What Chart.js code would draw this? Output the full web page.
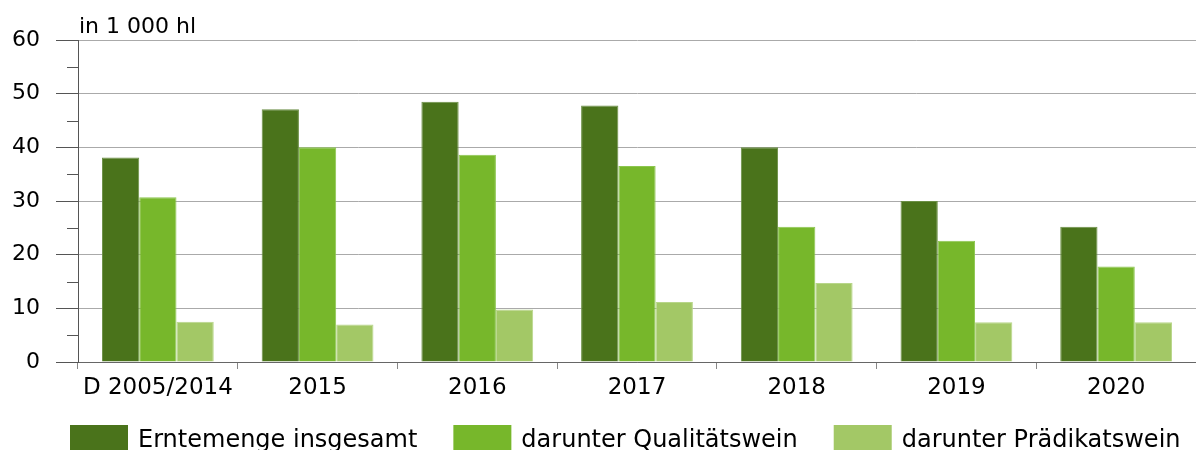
<!DOCTYPE html>
<html>
<head>
<meta charset="utf-8">
<script src="https://cdn.jsdelivr.net/npm/chart.js@4/dist/chart.umd.min.js"></script>
<style>
  html, body { margin: 0; padding: 0; background: #fff; }
  #wrap { width: 1196px; height: 450px; }
</style>
</head>
<body>
<div id="wrap"><canvas id="chart" width="1196" height="450"></canvas></div>
<script>
var categories = ["D 2005/2014", "2015", "2016", "2017", "2018", "2019", "2020"];
var ernteGesamt = [38.1, 47.1, 48.5, 47.8, 40.0, 30.0, 25.2];
var qualitaetswein = [30.7, 40.0, 38.6, 36.5, 25.2, 22.6, 17.8];
var praedikatswein = [7.5, 7.0, 9.8, 11.2, 14.7, 7.4, 7.4];
var seriesLabels = ["Erntemenge insgesamt", "darunter Qualitätswein", "darunter Prädikatswein"];
var yTicks = [0, 10, 20, 30, 40, 50, 60];
var unitLabel = "in 1 000 hl";

var FONT = "'DejaVu Sans', sans-serif";

// Zwischenstriche (5, 15, ...) links an der y-Achse, Einheit und Legende
var extras = {
  id: "extras",
  afterDraw: function (chart) {
    var ctx = chart.ctx;
    var y = chart.scales.y;
    var area = chart.chartArea;
    ctx.save();
    ctx.strokeStyle = "#555";
    ctx.lineWidth = 1;
    for (var i = 0; i < yTicks.length - 1; i++) {
      var py = Math.round(y.getPixelForValue((yTicks[i] + yTicks[i + 1]) / 2)) + 0.5;
      ctx.beginPath();
      ctx.moveTo(area.left - 11, py);
      ctx.lineTo(area.left, py);
      ctx.stroke();
    }

    ctx.fillStyle = "#000";
    ctx.font = "22px " + FONT;
    ctx.textBaseline = "alphabetic";
    ctx.textAlign = "left";
    ctx.fillText(unitLabel, area.left + 1, 33);

    // Legende
    ctx.font = "24px " + FONT;
    ctx.textBaseline = "middle";
    var x = 70;
    chart.data.datasets.forEach(function (ds) {
      ctx.fillStyle = ds.backgroundColor;
      ctx.fillRect(x, 425, 58, 30);
      ctx.fillStyle = "#000";
      ctx.fillText(ds.label, x + 68, 441);
      x += 68 + ctx.measureText(ds.label).width + 36;
    });
    ctx.restore();
  },
};

new Chart(document.getElementById("chart"), {
  type: "bar",
  data: {
    labels: categories,
    datasets: [
      {
        label: seriesLabels[0],
        data: ernteGesamt,
        backgroundColor: "#4a731b",
        borderColor: "#6b8f45",
        borderWidth: 1,
      },
      {
        label: seriesLabels[1],
        data: qualitaetswein,
        backgroundColor: "#77b72b",
        borderColor: "#8cc64f",
        borderWidth: 1,
      },
      {
        label: seriesLabels[2],
        data: praedikatswein,
        backgroundColor: "#a3c866",
        borderColor: "#b8d68a",
        borderWidth: 1,
      },
    ],
  },
  options: {
    responsive: false,
    animation: false,
    categoryPercentage: 0.7,
    barPercentage: 1.0,
    layout: { padding: { top: 40, right: 0, left: 0, bottom: 43 } },
    plugins: {
      legend: { display: false },
      tooltip: { enabled: false },
    },
    scales: {
      x: {
        afterFit: function (s) { s.height = 45; },
        grid: {
          offset: true,
          drawOnChartArea: false,
          tickLength: 7,
          tickColor: "#888",
        },
        border: { color: "#666" },
        ticks: {
          color: "#000",
          padding: 5,
          font: { family: FONT, size: 23 },
          maxRotation: 0,
          autoSkip: false,
        },
      },
      y: {
        min: 0,
        max: 60,
        afterFit: function (s) { s.width = 78; },
        afterBuildTicks: function (s) {
          s.ticks = yTicks.map(function (v) { return { value: v }; });
        },
        grid: {
          color: function (c) { return c.tick && c.tick.value === 0 ? "#666" : "#aaaaaa"; },
          tickColor: "#555",
          tickLength: 22,
        },
        border: { color: "#555" },
        ticks: {
          color: "#000",
          padding: 16,
          font: { family: FONT, size: 22 },
        },
      },
    },
  },
  plugins: [extras],
});
</script>
</body>
</html>
